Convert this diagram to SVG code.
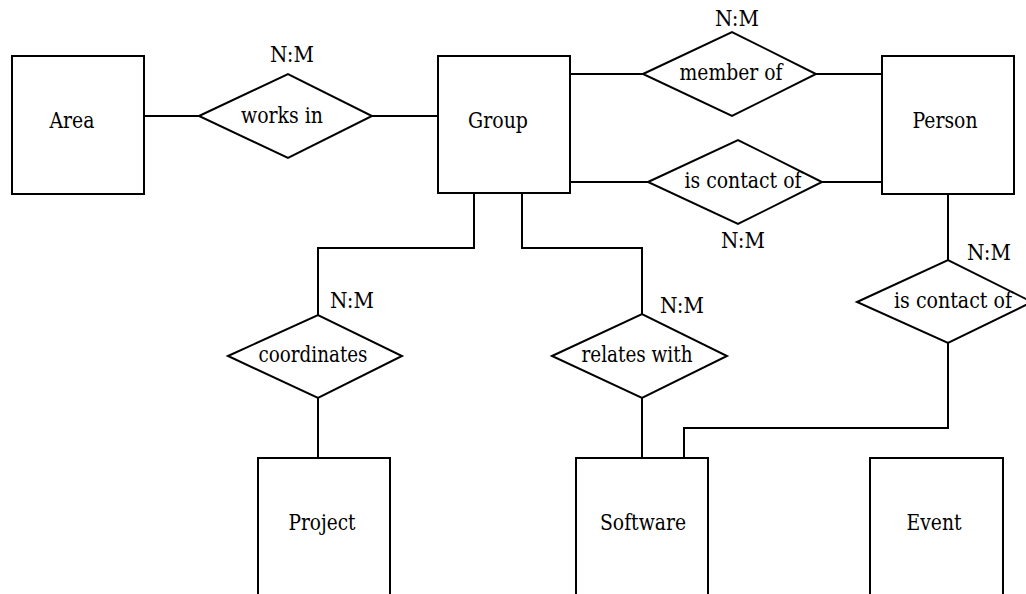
<svg xmlns="http://www.w3.org/2000/svg" width="1026" height="594" viewBox="0 0 1026 594">
<style>
.ent{fill:#fff;stroke:#000;stroke-width:2}
.rel{fill:#fff;stroke:#000;stroke-width:2;stroke-linejoin:miter}
.conn{fill:none;stroke:#000;stroke-width:2}
.t{font-family:'DejaVu Serif',serif;font-size:21.5px;fill:#000;text-anchor:middle}
</style>
<rect width="1026" height="594" fill="#fff"/>
<g id="connectors">
<path class="conn" d="M144,116 H199 M372,116 H438"/>
<path class="conn" d="M570,74 H643 M816,74 H882"/>
<path class="conn" d="M570,182 H648 M822,182 H882"/>
<path class="conn" d="M474,193 V248 H318 V315"/>
<path class="conn" d="M318,398 V458"/>
<path class="conn" d="M522,193 V248 H642 V314"/>
<path class="conn" d="M642,398 V458"/>
<path class="conn" d="M948,194 V260"/>
<path class="conn" d="M948,343 V428 H684 V458"/>
</g>
<g id="area"><rect class="ent" x="12" y="56" width="132" height="138"/><text class="t" x="72" y="128" textLength="45" lengthAdjust="spacingAndGlyphs">Area</text></g>
<g id="group"><rect class="ent" x="438" y="56" width="132" height="137"/><text class="t" x="498" y="128" textLength="60" lengthAdjust="spacingAndGlyphs">Group</text></g>
<g id="person"><rect class="ent" x="882" y="56" width="132" height="138"/><text class="t" x="945" y="128" textLength="65" lengthAdjust="spacingAndGlyphs">Person</text></g>
<g id="project"><rect class="ent" x="258" y="458" width="132" height="140"/><text class="t" x="322" y="530" textLength="67" lengthAdjust="spacingAndGlyphs">Project</text></g>
<g id="software"><rect class="ent" x="576" y="458" width="132" height="140"/><text class="t" x="643" y="530" textLength="86" lengthAdjust="spacingAndGlyphs">Software</text></g>
<g id="event"><rect class="ent" x="870" y="458" width="133" height="140"/><text class="t" x="934" y="530" textLength="55" lengthAdjust="spacingAndGlyphs">Event</text></g>
<g id="works-in"><polygon class="rel" points="199,116 288,74 372,116 288,158"/><text class="t" x="282" y="123" textLength="82" lengthAdjust="spacingAndGlyphs">works in</text><text class="t" x="292" y="62" textLength="44" lengthAdjust="spacingAndGlyphs">N:M</text></g>
<g id="member-of"><polygon class="rel" points="643,74 732,32 816,74 732,116"/><text class="t" x="731" y="80" textLength="103" lengthAdjust="spacingAndGlyphs">member of</text><text class="t" x="737" y="26" textLength="44" lengthAdjust="spacingAndGlyphs">N:M</text></g>
<g id="is-contact-of-group"><polygon class="rel" points="648,182 738,140 822,182 738,224"/><text class="t" x="743" y="188" textLength="117" lengthAdjust="spacingAndGlyphs">is contact of</text><text class="t" x="743" y="248" textLength="44" lengthAdjust="spacingAndGlyphs">N:M</text></g>
<g id="coordinates"><polygon class="rel" points="228,356 318,315 402,356 318,398"/><text class="t" x="313" y="362" textLength="109" lengthAdjust="spacingAndGlyphs">coordinates</text><text class="t" x="352" y="308" textLength="44" lengthAdjust="spacingAndGlyphs">N:M</text></g>
<g id="relates-with"><polygon class="rel" points="552,356 642,314 727,356 642,398"/><text class="t" x="637" y="362" textLength="111" lengthAdjust="spacingAndGlyphs">relates with</text><text class="t" x="682" y="313" textLength="44" lengthAdjust="spacingAndGlyphs">N:M</text></g>
<g id="is-contact-of-person"><polygon class="rel" points="857,302 948,260 1032,302 948,343"/><text class="t" x="953" y="308" textLength="118" lengthAdjust="spacingAndGlyphs">is contact of</text><text class="t" x="989" y="260" textLength="44" lengthAdjust="spacingAndGlyphs">N:M</text></g>
</svg>
